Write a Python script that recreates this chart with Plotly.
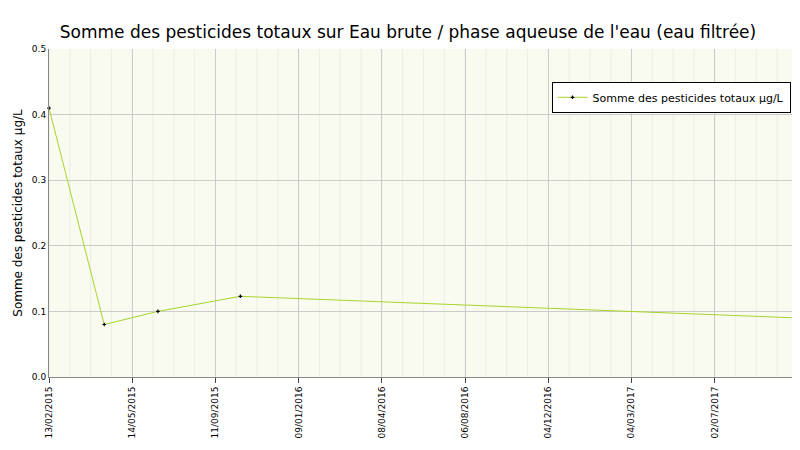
import plotly.graph_objects as go
import pandas as pd

dates = ["2015-02-13", "2015-04-27", "2015-07-07", "2015-10-24", "2017-10-30"]
values = [0.41, 0.08, 0.10, 0.123, 0.09]
tick_labels = ["13/02/2015", "14/05/2015", "11/09/2015", "09/01/2016", "08/04/2016",
               "06/08/2016", "04/12/2016", "04/03/2017", "02/07/2017", "30/10/2017"]

start = pd.Timestamp("2015-02-13")
end = pd.Timestamp("2017-10-30")
tickvals = [start + (end - start) * i / 9 for i in range(10)]
minor = [start + (end - start) * i / 36 for i in range(37)]

fig = go.Figure()
fig.add_trace(go.Scatter(
    x=dates, y=values, mode="lines+markers", name="Somme des pesticides totaux µg/L",
    line=dict(color="#a8d42a", width=1),
    marker=dict(color="black", size=3, symbol="cross"),
    cliponaxis=False,
))
for m in minor:
    fig.add_vline(x=m, line=dict(color="#eceee0", width=1), layer="below")

fig.update_layout(
    width=800, height=450,
    margin=dict(l=41, r=10, t=41, b=81, autoexpand=False),
    paper_bgcolor="white", plot_bgcolor="#f9faf0",
    font=dict(family="DejaVu Sans", size=11, color="black"),
    title=dict(text="Somme des pesticides totaux sur Eau brute / phase aqueuse de l'eau (eau filtrée)",
               x=0.5, y=0.96, xanchor="center", font=dict(size=17)),
    showlegend=True,
    legend=dict(x=0.99, y=0.9, xanchor="right", yanchor="top", bgcolor="white",
                bordercolor="black", borderwidth=1, font=dict(size=11)),
    xaxis=dict(range=[start, end], tickvals=tickvals, ticktext=tick_labels, tickangle=-90,
               showgrid=True, gridcolor="#cccccc", showline=True, linecolor="#888888",
               ticks="outside", tickfont=dict(size=9), automargin=False),
    yaxis=dict(range=[0, 0.5], dtick=0.1, tickformat=".1f", showgrid=True, gridcolor="#cccccc",
               showline=True, linecolor="#888888", tickfont=dict(size=9), zeroline=False,
               automargin=False,
               title=dict(text="Somme des pesticides totaux µg/L", font=dict(size=12), standoff=6)),
)
fig.write_html("out.html")
